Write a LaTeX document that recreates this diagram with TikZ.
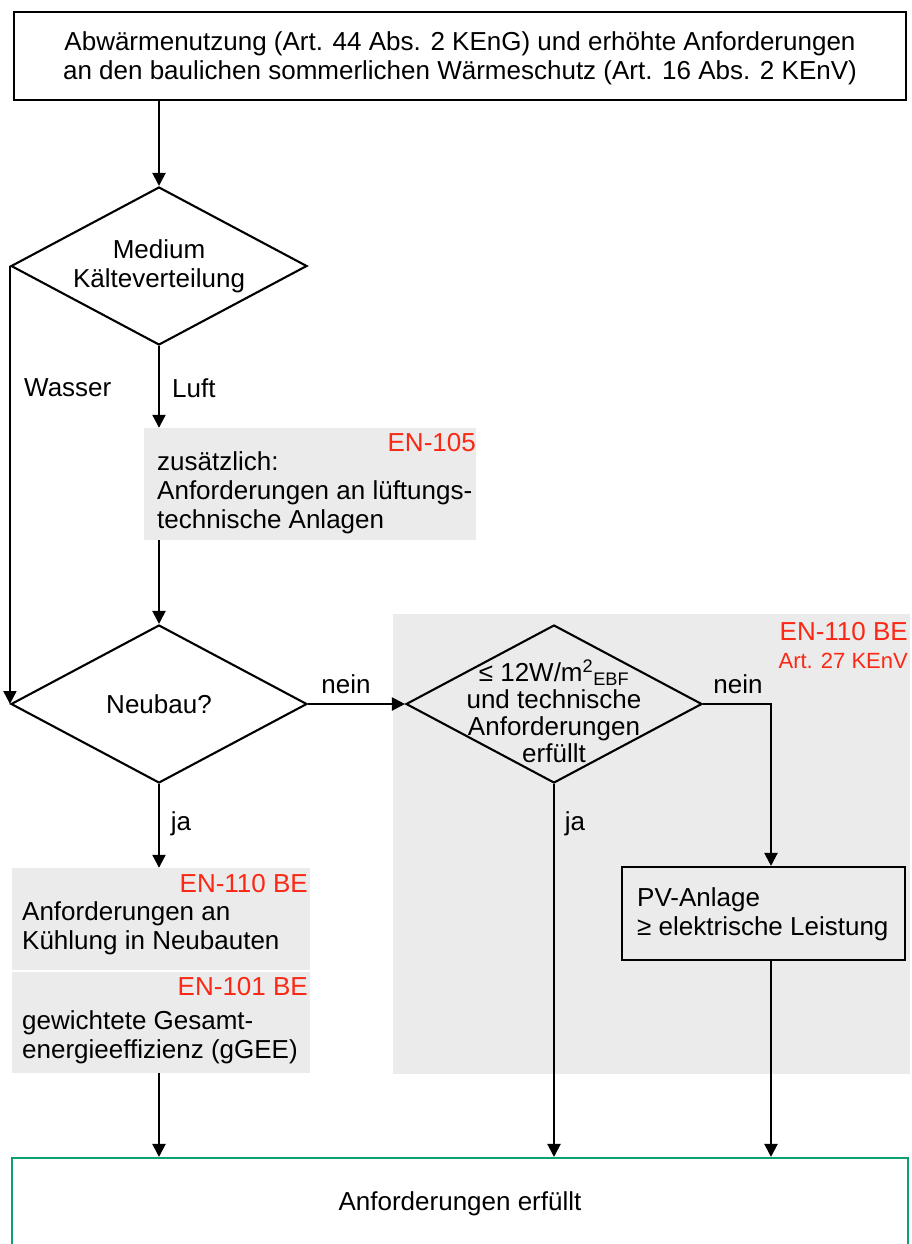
\documentclass[tikz,border=0pt]{standalone}
\usepackage{fontspec}
\setmainfont{Liberation Sans}
\usetikzlibrary{shapes.geometric,arrows.meta,calc}
\definecolor{redlab}{RGB}{250,40,20}
\definecolor{grayfill}{RGB}{235,235,235}
\definecolor{greenline}{RGB}{16,160,110}
\begin{document}
\begin{tikzpicture}[x=1pt,y=-1pt,
  arr/.style={line width=2.1pt,-{Triangle[length=13pt,width=13pt]}},
  dia/.style={draw,diamond,line width=2.1pt,minimum width=296pt,minimum height=158pt,inner sep=0pt},
  boxn/.style={draw,rectangle,line width=2.1pt,inner sep=0pt},
  gbox/.style={rectangle,fill=grayfill,inner sep=0pt},
  txt/.style={font=\fontsize{26}{29}\selectfont,inner sep=0pt},
  redtxt/.style={text=redlab,font=\fontsize{26}{29}\selectfont,inner sep=0pt},
  redsmall/.style={text=redlab,font=\fontsize{22}{26}\selectfont,inner sep=0pt}]
\path[use as bounding box] (0,0) rectangle (912,1244);
\clip (0,0) rectangle (912,1244);
% background regions
\node[gbox,minimum width=517pt,minimum height=460pt] (big) at (651.5,844) {};
\node[gbox,minimum width=332pt,minimum height=112pt] (g1) at (310,484) {};
\node[gbox,minimum width=298pt,minimum height=102pt] (g2a) at (161,919) {};
\node[gbox,minimum width=298pt,minimum height=101pt] (g2b) at (161,1022.5) {};
% boxes
\node[boxn,fill=white,minimum width=892pt,minimum height=88pt] (top) at (460,56) {};
\node[txt,align=center] (toptxt) at (460,58) {Abwärmenutzung (Art. 44 Abs. 2 KEnG) und erhöhte Anforderungen\\an den baulichen sommerlichen Wärmeschutz (Art. 16 Abs. 2 KEnV)};
\node[dia,fill=white] (d1) at (159,266) {};
\node[txt,align=center] (d1txt) at (159,266) {Medium\\Kälteverteilung};
\node[dia,fill=white] (d2) at (159,704) {};
\node[txt] (d2txt) at (159,704) {Neubau?};
\node[dia,fill=grayfill] (d3) at (554,704) {};
\node[txt,align=center,font=\fontsize{26}{27}\selectfont] (d3txt) at (554,711) {≤ 12W/m\textsuperscript{2}\textsubscript{EBF}\\und technische\\Anforderungen\\erfüllt};
\node[boxn,fill=grayfill,minimum width=283pt,minimum height=93pt] (pv) at (763.5,913.5) {};
\node[txt,align=left,anchor=west] (pvtxt) at (637,914) {PV-Anlage\\≥ elektrische Leistung};
\node[boxn,draw=greenline,fill=white,minimum width=896pt,minimum height=100pt] (final) at (460,1208) {};
\node[txt] (finaltxt) at (460,1204) {Anforderungen erfüllt};
% gray box texts
\node[redtxt,anchor=east] (en105) at (476,443) {EN-105};
\node[txt,align=left,anchor=west] (g1txt) at (157,493) {zusätzlich:\\Anforderungen an lüftungs-\\technische Anlagen};
\node[redtxt,anchor=east] (en110a) at (908,632) {EN-110 BE};
\node[redsmall,anchor=east] (art27) at (908,661) {Art. 27 KEnV};
\node[redtxt,anchor=east] (en110b) at (308,884) {EN-110 BE};
\node[txt,align=left,anchor=west] (g2atxt) at (22,928) {Anforderungen an\\Kühlung in Neubauten};
\node[redtxt,anchor=east] (en101) at (308,987) {EN-101 BE};
\node[txt,align=left,anchor=west] (g2btxt) at (22,1037) {gewichtete Gesamt-\\energieeffizienz (gGEE)};
% connector labels
\node[txt,anchor=west] (wasser) at (24,388) {Wasser};
\node[txt,anchor=west] (luft) at (172,388) {Luft};
\node[txt] (nein1) at (346,684) {nein};
\node[txt] (nein2) at (738,684) {nein};
\node[txt] (ja1) at (181,824) {ja};
\node[txt] (ja2) at (575,824) {ja};
% connectors
\draw[arr] (top.south -| d1.north) -- (d1.north);
\draw[arr] (d1.west) -- (d2.west);
\draw[arr] (d1.south) -- (d1.south |- g1.north);
\draw[arr] (d1.south |- g1.south) -- (d2.north);
\draw[arr] (d2.east) -- (d3.west);
\draw[arr] (d2.south) -- (d2.south |- g2a.north);
\draw[arr] (d2.south |- g2b.south) -- (d2.south |- final.north);
\draw[arr] (d3.south) -- (d3.south |- final.north);
\coordinate (pvin) at ([xshift=7.5pt]pv.north);
\draw[arr] (d3.east) -| (pvin);
\draw[arr] (pvin |- pv.south) -- (pvin |- final.north);
\end{tikzpicture}
\end{document}
